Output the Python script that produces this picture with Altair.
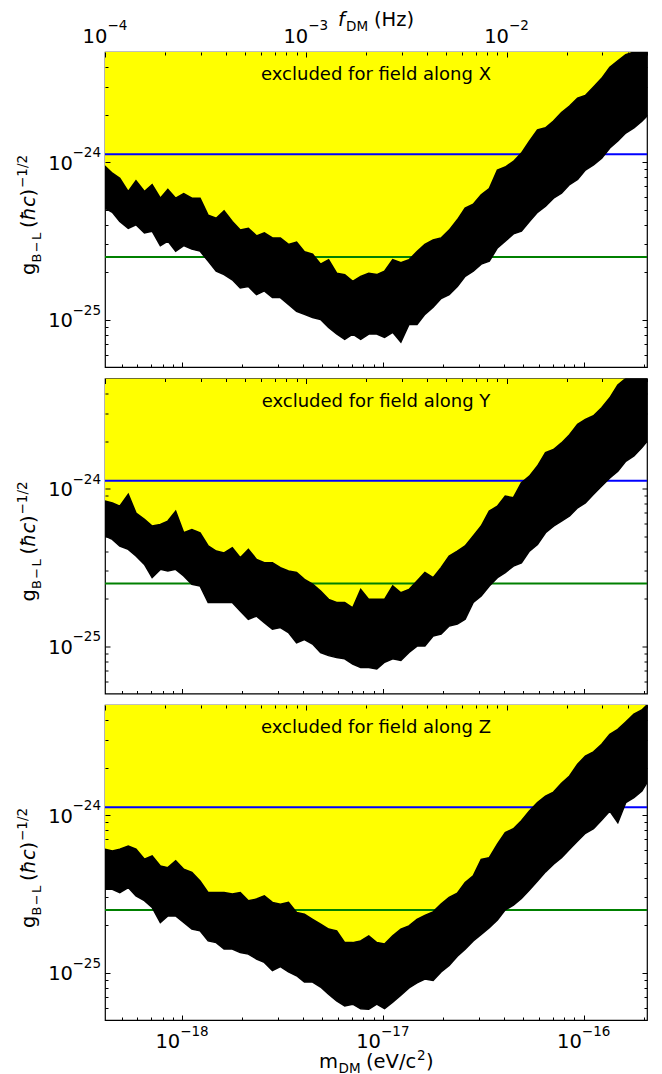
import altair as alt
import pandas as pd

# ---------------- data ----------------
HZ_PER_EV = 2.417989e14
F_MIN, F_MAX = 1e-4, 5e-2
M_MIN, M_MAX = F_MIN / HZ_PER_EV, F_MAX / HZ_PER_EV
G_MIN, G_MAX = 5e-26, 5e-24

mass = [4.136e-19, 4.5e-19, 4.9e-19, 5.4e-19, 5.9e-19, 6.5e-19, 7.1e-19, 7.8e-19, 8.5e-19, 9.3e-19,
        1.02e-18, 1.12e-18, 1.23e-18, 1.35e-18, 1.48e-18, 1.62e-18, 1.78e-18, 1.95e-18, 2.14e-18, 2.35e-18,
        2.57e-18, 2.82e-18, 3.09e-18, 3.39e-18, 3.72e-18, 4.07e-18, 4.47e-18, 4.90e-18, 5.37e-18, 5.89e-18,
        6.46e-18, 7.08e-18, 7.76e-18, 8.51e-18, 9.33e-18, 1.02e-17, 1.12e-17, 1.23e-17, 1.35e-17, 1.48e-17,
        1.62e-17, 1.78e-17, 1.95e-17, 2.14e-17, 2.35e-17, 2.57e-17, 2.82e-17, 3.09e-17, 3.39e-17, 3.72e-17,
        4.07e-17, 4.47e-17, 4.90e-17, 5.37e-17, 5.89e-17, 6.46e-17, 7.08e-17, 7.76e-17, 8.51e-17, 9.33e-17,
        1.02e-16, 1.12e-16, 1.23e-16, 1.35e-16, 1.48e-16, 1.62e-16, 1.78e-16, 1.95e-16, 2.068e-16]

upper_x = [9.4e-25, 8.5e-25, 7.9e-25, 6.5e-25, 7.6e-25, 6.5e-25, 7.2e-25, 5.9e-25, 6.7e-25, 5.9e-25,
           6.3e-25, 5.9e-25, 5.9e-25, 4.6e-25, 4.4e-25, 4.9e-25, 4.2e-25, 3.7e-25, 3.8e-25, 3.4e-25,
           3.55e-25, 3.3e-25, 3.3e-25, 3.0e-25, 3.1e-25, 2.7e-25, 2.6e-25, 2.25e-25, 2.4e-25, 1.97e-25,
           1.93e-25, 1.75e-25, 1.88e-25, 1.97e-25, 1.93e-25, 2.03e-25, 2.4e-25, 2.3e-25, 2.4e-25, 2.7e-25,
           3.0e-25, 3.2e-25, 3.3e-25, 3.7e-25, 4.3e-25, 5.1e-25, 5.4e-25, 6.2e-25, 6.8e-25, 8.9e-25,
           9.3e-25, 1.01e-24, 1.14e-24, 1.36e-24, 1.6e-24, 1.65e-24, 1.82e-24, 2.06e-24, 2.27e-24, 2.55e-24,
           2.65e-24, 3.0e-24, 3.4e-24, 4.0e-24, 4.4e-24, 4.8e-24, 5.0e-24, 5.0e-24, 5.0e-24]
lower_x = [5.1e-25, 4.8e-25, 4.2e-25, 3.8e-25, 4.0e-25, 3.55e-25, 3.64e-25, 2.95e-25, 3.15e-25, 2.72e-25,
           2.95e-25, 2.8e-25, 2.72e-25, 2.35e-25, 2.03e-25, 1.93e-25, 1.79e-25, 1.59e-25, 1.62e-25, 1.44e-25,
           1.52e-25, 1.38e-25, 1.38e-25, 1.25e-25, 1.13e-25, 1.08e-25, 1.03e-25, 1.0e-25, 8.9e-26, 8.1e-26,
           7.5e-26, 8.1e-26, 7.5e-26, 8.1e-26, 8.1e-26, 7.7e-26, 8.3e-26, 7.2e-26, 9.3e-26, 9.3e-26,
           1.08e-25, 1.2e-25, 1.36e-25, 1.44e-25, 1.62e-25, 1.88e-25, 2.03e-25, 2.25e-25, 2.35e-25, 2.85e-25,
           3.15e-25, 3.5e-25, 3.64e-25, 4.2e-25, 4.8e-25, 5.25e-25, 5.9e-25, 6.35e-25, 7.2e-25, 7.75e-25,
           8.9e-25, 9.6e-25, 1.06e-24, 1.23e-24, 1.36e-24, 1.53e-24, 1.65e-24, 1.82e-24, 1.96e-24]

upper_y = [8.33e-25, 8.1e-25, 7.74e-25, 9.2e-25, 7.0e-25, 6.37e-25, 5.78e-25, 5.92e-25, 6.22e-25, 7.19e-25,
           5.24e-25, 5.5e-25, 5.24e-25, 4.32e-25, 4.01e-25, 3.9e-25, 4.21e-25, 3.64e-25, 4.11e-25, 3.55e-25,
           3.38e-25, 3.38e-25, 3.15e-25, 3.0e-25, 2.93e-25, 2.65e-25, 2.47e-25, 2.24e-25, 1.98e-25, 1.89e-25,
           1.89e-25, 1.75e-25, 2.29e-25, 1.98e-25, 1.98e-25, 1.98e-25, 2.41e-25, 2.18e-25, 2.29e-25, 2.59e-25,
           2.93e-25, 2.72e-25, 3.15e-25, 3.73e-25, 4.01e-25, 4.32e-25, 5.0e-25, 5.78e-25, 7.19e-25, 7.74e-25,
           8.95e-25, 8.75e-25, 1.09e-24, 1.2e-24, 1.39e-24, 1.69e-24, 1.77e-24, 1.95e-24, 2.2e-24, 2.56e-24,
           2.75e-24, 2.9e-24, 3.26e-24, 3.77e-24, 4.55e-24, 5.0e-24, 5.0e-24, 5.0e-24, 5.0e-24]
lower_y = [5.0e-25, 4.76e-25, 4.32e-25, 4.11e-25, 3.73e-25, 3.3e-25, 2.72e-25, 3.07e-25, 3.0e-25, 3.07e-25,
           2.79e-25, 2.47e-25, 2.41e-25, 1.89e-25, 1.89e-25, 1.89e-25, 1.89e-25, 1.67e-25, 1.48e-25, 1.55e-25,
           1.41e-25, 1.28e-25, 1.31e-25, 1.22e-25, 1.05e-25, 1.1e-25, 1.03e-25, 9.1e-26, 8.7e-26, 8.45e-26,
           8.3e-26, 7.7e-26, 7.3e-26, 7.3e-26, 7.15e-26, 7.9e-26, 8.3e-26, 8.1e-26, 9.1e-26, 1.0e-25,
           1.0e-25, 1.16e-25, 1.19e-25, 1.34e-25, 1.38e-25, 1.48e-25, 1.89e-25, 2.08e-25, 2.41e-25, 2.72e-25,
           2.93e-25, 3.22e-25, 3.38e-25, 4.01e-25, 4.42e-25, 5.24e-25, 5.78e-25, 6.22e-25, 6.7e-25, 7.55e-25,
           8.1e-25, 9.2e-25, 1.04e-24, 1.17e-24, 1.29e-24, 1.49e-24, 1.61e-24, 1.82e-24, 2.0e-24]

upper_z = [6.07e-25, 5.92e-25, 6.07e-25, 6.37e-25, 6.07e-25, 5.24e-25, 5.5e-25, 4.76e-25, 4.64e-25, 5.12e-25,
           4.53e-25, 4.32e-25, 3.82e-25, 3.22e-25, 3.22e-25, 3.22e-25, 3.15e-25, 3.22e-25, 2.86e-25, 2.93e-25,
           3.07e-25, 2.79e-25, 2.72e-25, 2.79e-25, 2.41e-25, 2.35e-25, 2.18e-25, 2.03e-25, 1.89e-25, 1.84e-25,
           1.55e-25, 1.55e-25, 1.59e-25, 1.71e-25, 1.55e-25, 1.52e-25, 1.71e-25, 1.89e-25, 1.98e-25, 2.18e-25,
           2.31e-25, 2.43e-25, 2.72e-25, 3.0e-25, 3.19e-25, 3.73e-25, 4.11e-25, 5.24e-25, 5.37e-25, 6.53e-25,
           7.74e-25, 8.2e-25, 9.2e-25, 1.06e-24, 1.2e-24, 1.32e-24, 1.4e-24, 1.59e-24, 1.77e-24, 2.1e-24,
           2.37e-24, 2.52e-24, 2.82e-24, 3.26e-24, 3.5e-24, 3.9e-24, 4.37e-24, 4.65e-24, 5.0e-24]
lower_z = [3.38e-25, 3.38e-25, 3.22e-25, 3.47e-25, 3.07e-25, 2.86e-25, 2.59e-25, 2.08e-25, 2.29e-25, 2.29e-25,
           2.08e-25, 1.89e-25, 1.84e-25, 1.59e-25, 1.55e-25, 1.41e-25, 1.41e-25, 1.34e-25, 1.31e-25, 1.22e-25,
           1.16e-25, 1.03e-25, 1.09e-25, 1.01e-25, 9.55e-26, 8.7e-26, 8.7e-26, 8.1e-26, 7.3e-26, 6.6e-26,
           6.15e-26, 6.3e-26, 5.9e-26, 5.85e-26, 6.3e-26, 5.9e-26, 6.5e-26, 7.2e-26, 8.0e-26, 8.6e-26,
           9.1e-26, 8.9e-26, 1.01e-25, 1.11e-25, 1.27e-25, 1.41e-25, 1.59e-25, 1.75e-25, 1.93e-25, 2.16e-25,
           2.5e-25, 2.68e-25, 2.96e-25, 3.35e-25, 3.82e-25, 4.36e-25, 4.88e-25, 5.37e-25, 6.07e-25, 6.85e-25,
           7.67e-25, 8.2e-25, 9.3e-25, 1.06e-24, 8.95e-25, 1.2e-24, 1.29e-24, 1.42e-24, 1.61e-24]

blue_level = 1.12e-24
green_level = 2.5e-25

panel_names = ["X", "Y", "Z"]

mass_major = [1e-18, 1e-17, 1e-16]
mass_major_exp = ["\u221218", "\u221217", "\u221216"]
mass_minor = [5e-19, 6e-19, 7e-19, 8e-19, 9e-19,
              2e-18, 3e-18, 4e-18, 5e-18, 6e-18, 7e-18, 8e-18, 9e-18,
              2e-17, 3e-17, 4e-17, 5e-17, 6e-17, 7e-17, 8e-17, 9e-17, 2e-16]
freq_major = [1e-4, 1e-3, 1e-2]
freq_major_exp = ["\u22124", "\u22123", "\u22122"]
freq_minor = [2e-4, 3e-4, 4e-4, 5e-4, 6e-4, 7e-4, 8e-4, 9e-4,
              2e-3, 3e-3, 4e-3, 5e-3, 6e-3, 7e-3, 8e-3, 9e-3,
              2e-2, 3e-2, 4e-2, 5e-2]
g_major = [1e-25, 1e-24]
g_major_exp = ["\u221225", "\u221224"]
g_minor = [6e-26, 7e-26, 8e-26, 9e-26,
           2e-25, 3e-25, 4e-25, 5e-25, 6e-25, 7e-25, 8e-25, 9e-25,
           2e-24, 3e-24, 4e-24]

# ---------------- layout constants ----------------
W, H = 542, 315
FONT = "DejaVu Sans"
MAJ, MIN = 5, 3
BIG, SMALL = 19.5, 13.5


def axis(orient, values, size):
    return alt.Axis(orient=orient, values=values, tickSize=size, offset=-size, domain=False,
                    grid=False, title=None, labels=False, tickColor="black", tickWidth=1,
                    zindex=3, minExtent=0, maxExtent=0)


def text_piece(txt, x, y, size, angle=0, style="normal", align="left", baseline="alphabetic"):
    return alt.Chart(pd.DataFrame({"d": [0]})).mark_text(
        text=txt, font=FONT, fontSize=size, fontStyle=style, angle=angle,
        align=align, baseline=baseline, color="black"
    ).encode(x=alt.value(x), y=alt.value(y))


def panel(i, upper, lower):
    df = pd.DataFrame({"m": mass, "upper": upper, "lower": lower, "top": [G_MAX] * len(mass)})
    xs = alt.Scale(type="log", domain=[M_MIN, M_MAX], nice=False)
    fs = alt.Scale(type="log", domain=[F_MIN, F_MAX], nice=False)
    ys = alt.Scale(type="log", domain=[G_MIN, G_MAX], nice=False)

    yellow = alt.Chart(df).mark_area(color="#ffff00", clip=True).encode(
        x=alt.X("m:Q", scale=xs, axis=axis("bottom", mass_major, MAJ)),
        y=alt.Y("upper:Q", scale=ys, axis=axis("left", g_major, MAJ)),
        y2="top:Q",
    )
    black = alt.Chart(df).mark_area(color="black", stroke="black", strokeWidth=1.5, clip=True).encode(
        x=alt.X("m:Q", scale=xs, axis=axis("bottom", mass_minor, MIN)),
        y=alt.Y("lower:Q", scale=ys, axis=axis("left", g_minor, MIN)),
        y2="upper:Q",
    )
    blue = alt.Chart(pd.DataFrame({"f0": [F_MIN], "f1": [F_MAX], "g": [blue_level]})).mark_rule(
        color="#0000ff", strokeWidth=2).encode(
        x=alt.X("f0:Q", scale=fs, axis=axis("top", freq_major, MAJ)),
        x2="f1:Q",
        y=alt.Y("g:Q", scale=ys, axis=axis("right", g_major, MAJ)),
    )
    green = alt.Chart(pd.DataFrame({"f0": [F_MIN], "f1": [F_MAX], "g": [green_level]})).mark_rule(
        color="#008000", strokeWidth=2).encode(
        x=alt.X("f0:Q", scale=fs, axis=axis("top", freq_minor, MIN)),
        x2="f1:Q",
        y=alt.Y("g:Q", scale=ys, axis=axis("right", g_minor, MIN)),
    )
    note = text_piece("excluded for field along " + panel_names[i], W / 2, 23, 18,
                      align="center", baseline="middle")

    # left tick labels: "10" + superscript exponent, placed through the y scale
    gl = pd.DataFrame({"g": g_major, "e": g_major_exp})
    lab_base = alt.Chart(gl).mark_text(text="10", font=FONT, fontSize=BIG, align="right",
                                       baseline="alphabetic", dy=7.5, color="black").encode(
        y=alt.Y("g:Q", scale=ys, axis=None), x=alt.value(-32))
    lab_exp = alt.Chart(gl).mark_text(font=FONT, fontSize=SMALL, align="right",
                                      baseline="alphabetic", dy=-4.8, color="black").encode(
        y=alt.Y("g:Q", scale=ys, axis=None), x=alt.value(-4), text="e:N")

    bx = -70
    ytitle = [
        text_piece("g", bx, 223, BIG, angle=270),
        text_piece("B\u200a\u2212\u200aL", bx + 6, 210.5, 13, angle=270),
        text_piece("(", bx, 176, BIG, angle=270),
        text_piece("\u0127c", bx, 168.5, BIG, angle=270, style="italic"),
        text_piece(")", bx, 144.5, BIG, angle=270),
        text_piece("\u22121/2", bx - 8, 136, SMALL, angle=270),
    ]
    extra = []
    if i == 0:
        fl = pd.DataFrame({"f": freq_major, "e": freq_major_exp})
        extra = [
            alt.Chart(fl).mark_text(text="10", font=FONT, fontSize=BIG, align="right",
                                    baseline="alphabetic", dx=2.4, color="black").encode(
                x=alt.X("f:Q", scale=fs, axis=None), y=alt.value(-9.5)),
            alt.Chart(fl).mark_text(font=FONT, fontSize=SMALL, align="left",
                                    baseline="alphabetic", dx=2.4, color="black").encode(
                x=alt.X("f:Q", scale=fs, axis=None), y=alt.value(-22), text="e:N"),
            text_piece("f", 233, -26.5, BIG, style="italic"),
            text_piece("DM", 241, -21.5, SMALL),
            text_piece("(Hz)", 269, -26.5, BIG),
        ]
    if i == 2:
        ml = pd.DataFrame({"m": mass_major, "e": mass_major_exp})
        extra = [
            alt.Chart(ml).mark_text(text="10", font=FONT, fontSize=BIG, align="right",
                                    baseline="alphabetic", dx=-1.8, color="black").encode(
                x=alt.X("m:Q", scale=xs, axis=None), y=alt.value(H + 28)),
            alt.Chart(ml).mark_text(font=FONT, fontSize=SMALL, align="left",
                                    baseline="alphabetic", dx=-1.8, color="black").encode(
                x=alt.X("m:Q", scale=xs, axis=None), y=alt.value(H + 15.5), text="e:N"),
            text_piece("m", 214, 363, BIG),
            text_piece("DM", 233.5, 368, SMALL),
            text_piece("(eV/c", 261, 363, BIG),
            text_piece("2", 312, 355, SMALL),
            text_piece(")", 321, 363, BIG),
        ]
    layers = [yellow, blue, green, black, note, lab_base, lab_exp] + ytitle + extra
    return alt.layer(*layers).resolve_scale(x="independent", y="independent").properties(
        width=W, height=H)


chart = alt.vconcat(
    panel(0, upper_x, lower_x),
    panel(1, upper_y, lower_y),
    panel(2, upper_z, lower_z),
    spacing=7.5,
).properties(
    padding={"left": 7, "top": 0, "right": 0, "bottom": 0},
    background="white",
).configure_view(stroke="black", strokeWidth=1.2)

chart.save("out.html", embed_options={"renderer": "svg", "actions": False})
